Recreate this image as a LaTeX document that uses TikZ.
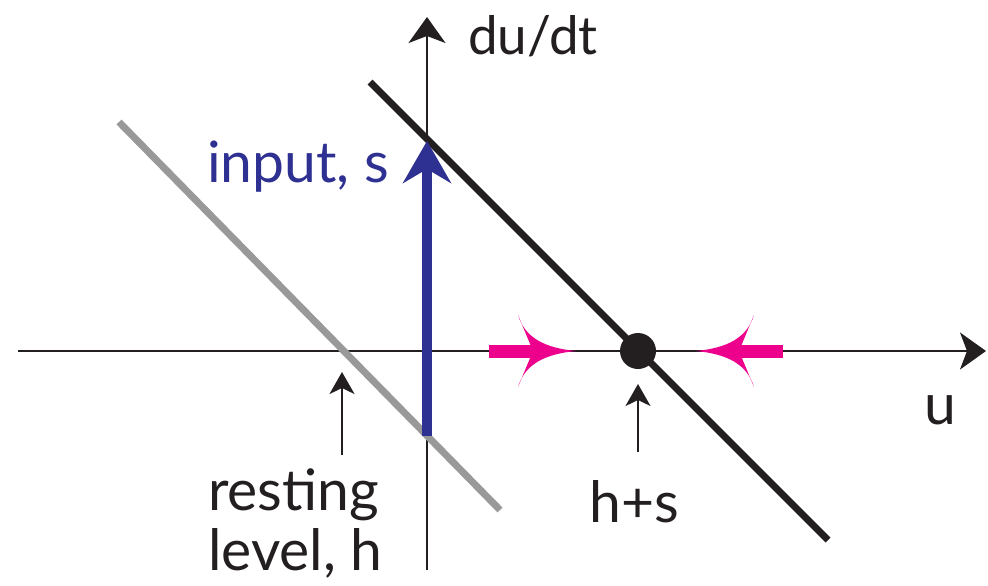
\documentclass[tikz,border=0pt]{standalone}
\usepackage{fontspec}
\setmainfont{Lato}
\usetikzlibrary{arrows.meta}
\definecolor{inblue}{HTML}{2E3192}
\definecolor{pinkc}{HTML}{EC008C}
\definecolor{greyl}{HTML}{999999}
\definecolor{blk}{HTML}{231F20}
\tikzset{
  axis/.style={draw=blk, line width=2pt, -{Stealth[length=26pt,width=37pt,inset=7pt]}},
  pointer/.style={draw=blk, line width=2pt, -{Stealth[length=22pt,width=25pt,inset=6pt]}},
  lbl/.style={text=blk, font=\fontsize{57}{62}\selectfont, inner sep=0pt},
}
\begin{document}
\begin{tikzpicture}[x=1pt,y=-1pt]
\useasboundingbox (0,0) rectangle (988,586);
% coordinates
\coordinate (xl) at (18,351);
\coordinate (xr) at (986,351);
\coordinate (yb) at (427,570);
\coordinate (yt) at (427,17);
\coordinate (g1) at (119,122);
\coordinate (g2) at (500,510);
\coordinate (b1) at (370,82);
\coordinate (b2) at (828,540);
\coordinate (s0) at (427,436);
\coordinate (s1) at (427,141);
\coordinate (fp) at (638,351);
% axes
\draw[axis] (xl) -- (xr);
\draw[axis] (yb) -- (yt);
% lines
\draw[greyl, line width=7pt] (g1) -- (g2);
\draw[blk, line width=7pt] (b1) -- (b2);
% input arrow
\draw[inblue, line width=10pt, -{Stealth[length=42pt,width=48pt,inset=14pt]}] (s0) -- (s1);
% fixed point
\node[circle, fill=blk, minimum size=36pt, inner sep=0pt] (dot) at (fp) {};
% pink arrows
\coordinate (pl0) at (489,351);
\coordinate (plt) at (576,351);
\fill[pinkc] (pl0) ++(0,-6.5) rectangle (536,357.5);
\fill[pinkc] (plt) .. controls (545,348) and (525,338) .. (518,315)
  -- (533,351) -- (518,387) .. controls (525,364) and (545,354) .. (plt) -- cycle;
\coordinate (pr0) at (783,351);
\coordinate (prt) at (696,351);
\fill[pinkc] (pr0) ++(0,-6.5) rectangle (736,357.5);
\fill[pinkc] (prt) .. controls (727,348) and (747,338) .. (754,315)
  -- (739,351) -- (754,387) .. controls (747,364) and (727,354) .. (prt) -- cycle;
% pointers
\coordinate (r0) at (342,455);
\coordinate (r1) at (342,372);
\draw[pointer] (r0) -- (r1);
\coordinate (h0) at (638,452);
\coordinate (h1) at (638,384);
\draw[pointer] (h0) -- (h1);
% labels
\node[lbl, anchor=base west, font=\fontsize{53}{58}\selectfont] (dudt) at (468,55) {du/dt};
\node[lbl, anchor=base west, text=inblue] (inp) at (207,182) {input, s};
\node[lbl, anchor=base] (u) at (940,424) {u};
\node[lbl, anchor=base west] (rest) at (208,510) {resting};
\node[lbl, anchor=base west] (lev) at (208,570) {level, h};
\node[lbl, anchor=base] (hs) at (634,522) {h+s};
\end{tikzpicture}
\end{document}
